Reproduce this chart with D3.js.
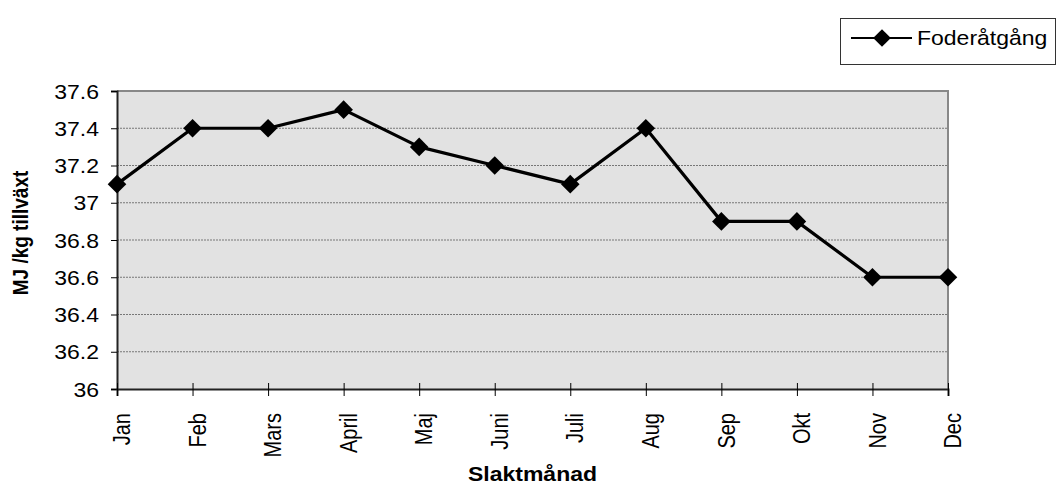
<!DOCTYPE html>
<html>
<head>
<meta charset="utf-8">
<script src="https://cdn.jsdelivr.net/npm/d3@7"></script>
<style>
  html, body { margin: 0; padding: 0; background: #fff; }
  svg { display: block; font-family: "Liberation Sans", Arial, sans-serif; }
</style>
</head>
<body>
<svg id="chart" width="1059" height="489"></svg>
<script>
// Monthly feed consumption per kg growth
const months = ["Jan", "Feb", "Mars", "April", "Maj", "Juni", "Juli", "Aug", "Sep", "Okt", "Nov", "Dec"];
const foderatgang = [37.1, 37.4, 37.4, 37.5, 37.3, 37.2, 37.1, 37.4, 36.9, 36.9, 36.6, 36.6];
const yTicks = [36, 36.2, 36.4, 36.6, 36.8, 37, 37.2, 37.4, 37.6];
const seriesName = "Foderåtgång";

const svg = d3.select("#chart");
const plot = { left: 117, right: 948, top: 91, bottom: 389 };
const FONT = "Liberation Sans, Arial, sans-serif";
const SX = 1.15; // slightly wide lettering

const x = d3.scalePoint().domain(months).range([plot.left, plot.right]);
const y = d3.scaleLinear().domain([36, 37.6]).range([plot.bottom, plot.top]);

// plot background
svg.append("rect")
  .attr("x", plot.left).attr("y", plot.top)
  .attr("width", plot.right - plot.left).attr("height", plot.bottom - plot.top)
  .attr("fill", "#e2e2e2");

// gridlines
svg.append("g").selectAll("line")
  .data(yTicks.filter(t => t > 36 && t < 37.6))
  .join("line")
  .attr("x1", plot.left).attr("x2", plot.right)
  .attr("y1", d => y(d)).attr("y2", d => y(d))
  .attr("stroke", "#777").attr("stroke-width", 1)
  .attr("stroke-dasharray", "2,1");

// top and right borders
svg.append("path")
  .attr("d", `M${plot.left},${plot.top}H${plot.right}V${plot.bottom}`)
  .attr("fill", "none").attr("stroke", "#888").attr("stroke-width", 2);

// y axis
const yAxis = svg.append("g")
  .attr("transform", `translate(${plot.left},0)`)
  .call(d3.axisLeft(y).tickValues(yTicks).tickFormat(d => String(+d.toFixed(1))).tickSizeOuter(0).tickSize(6));
yAxis.select(".domain").attr("stroke", "#222").attr("stroke-width", 2);
yAxis.selectAll(".tick line").attr("stroke", "#000");
yAxis.selectAll(".tick text")
  .attr("font-size", 20).attr("fill", "#000").attr("font-family", FONT)
  .attr("text-anchor", "end")
  .attr("x", 0).attr("dy", "0.35em")
  .attr("transform", `translate(-18,0) scale(${SX},1)`);

// x axis
const xAxis = svg.append("g")
  .attr("transform", `translate(0,${plot.bottom})`)
  .call(d3.axisBottom(x).tickSizeOuter(0).tickSize(7));
xAxis.select(".domain").attr("stroke", "#222").attr("stroke-width", 2);
xAxis.selectAll(".tick line").attr("stroke", "#000").attr("y1", -6);
xAxis.selectAll(".tick text")
  .attr("font-size", 20).attr("fill", "#000").attr("font-family", FONT)
  .attr("text-anchor", "end")
  .attr("x", 0).attr("y", 11).attr("dy", 0)
  .attr("transform", `translate(0,24) scale(${SX},1) rotate(-90)`);

// data line
const line = d3.line().x((d, i) => x(months[i])).y(d => y(d));
svg.append("path")
  .datum(foderatgang)
  .attr("d", line)
  .attr("fill", "none").attr("stroke", "#000").attr("stroke-width", 3.2)
  .attr("stroke-linejoin", "round");

// diamond markers
const diamond = d3.symbol().type(d3.symbolDiamond2).size(220);
svg.append("g").selectAll("path")
  .data(foderatgang)
  .join("path")
  .attr("d", diamond)
  .attr("transform", (d, i) => `translate(${x(months[i])},${y(d)})`)
  .attr("fill", "#000");

// axis titles
svg.append("text")
  .attr("transform", `translate(${(plot.left + plot.right) / 2},481) scale(${SX},1)`)
  .attr("text-anchor", "middle")
  .attr("font-size", 20).attr("font-weight", "bold").attr("font-family", FONT)
  .text("Slaktmånad");

svg.append("text")
  .attr("transform", `translate(28,233) scale(${SX},1) rotate(-90)`)
  .attr("text-anchor", "middle")
  .attr("font-size", 19).attr("font-weight", "bold").attr("font-family", FONT)
  .text("MJ /kg tillväxt");

// legend
const legend = svg.append("g");
legend.append("rect")
  .attr("x", 840.5).attr("y", 18.5).attr("width", 215).attr("height", 46)
  .attr("fill", "#fff").attr("stroke", "#333").attr("stroke-width", 1);
legend.append("line")
  .attr("x1", 851).attr("x2", 912).attr("y1", 38).attr("y2", 38)
  .attr("stroke", "#000").attr("stroke-width", 2);
legend.append("path")
  .attr("d", d3.symbol().type(d3.symbolDiamond2).size(200))
  .attr("transform", "translate(882,38)")
  .attr("fill", "#000");
legend.append("text")
  .attr("transform", `translate(917,44.5) scale(${SX},1)`)
  .attr("font-size", 20).attr("font-family", FONT)
  .text(seriesName);
</script>
</body>
</html>
